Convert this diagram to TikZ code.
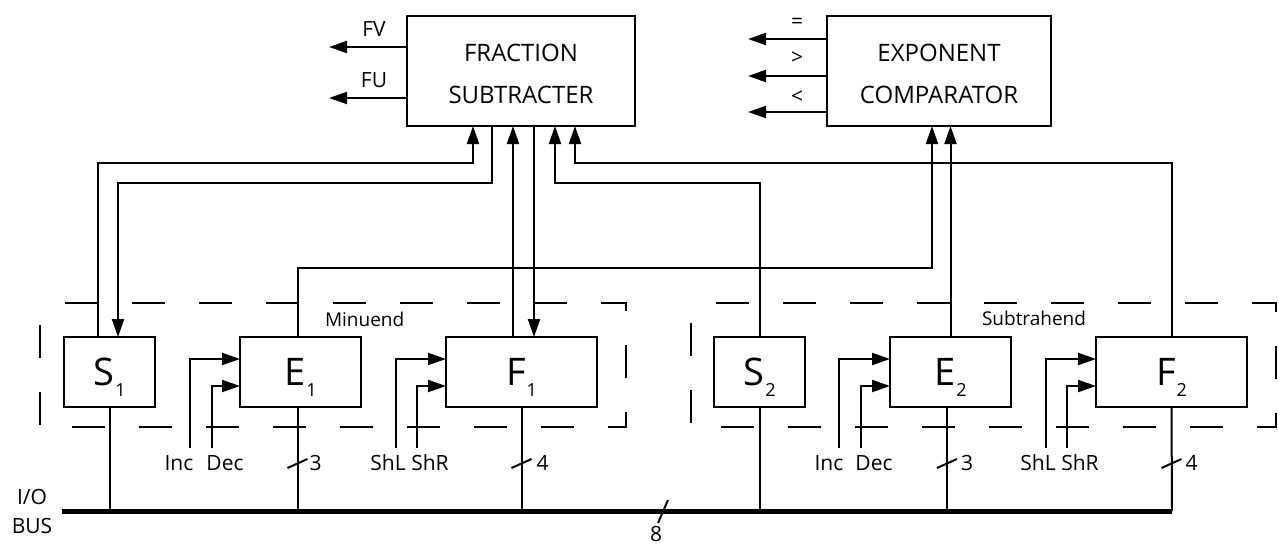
\documentclass[tikz,border=0pt]{standalone}
\usepackage{fontspec}
\setmainfont{Open Sans}
\usetikzlibrary{arrows.meta,calc}
\newcommand\myfs[1]{\fontsize{#1}{#1}\selectfont}
\newcommand\regname[2]{#1\kern1pt\raisebox{-11pt}[0pt][0pt]{\myfs{18}#2}}
\begin{document}
\begin{tikzpicture}[x=1pt,y=-1pt,
  line width=2pt,
  every node/.style={inner sep=0pt,outer sep=0pt},
  bigbox/.style={draw,line width=2pt,minimum height=110pt,align=center,font=\fontsize{24}{42}\selectfont},
  reg/.style={draw,line width=2pt,minimum height=70pt,font=\myfs{38}},
  lbl/.style={font=\myfs{21}},
  grplbl/.style={font=\myfs{19},anchor=west},
  arr/.style={-{Triangle[length=18pt,width=12pt]}},
  grp/.style={dash pattern=on 33pt off 34pt,dash phase=42pt,line width=2pt},
  bus/.style={line width=5pt},
]
\useasboundingbox (0,0) rectangle (1278,546);

% main blocks
\node[bigbox,minimum width=228pt] (fs) at (521,71) {\rule{0pt}{23pt}FRACTION\\SUBTRACTER};
\node[bigbox,minimum width=224pt] (ec) at (939,71) {\rule{0pt}{23pt}EXPONENT\\COMPARATOR};

\node[reg,minimum width=91pt]  (s1) at (109.5,372) {\regname{S}{1}};
\node[reg,minimum width=121pt] (e1) at (300.5,372) {\regname{E}{1}};
\node[reg,minimum width=151pt] (f1) at (521.5,372) {\regname{F}{1}};
\node[reg,minimum width=91pt]  (s2) at (759.5,372) {\regname{S}{2}};
\node[reg,minimum width=121pt] (e2) at (950.5,372) {\regname{E}{2}};
\node[reg,minimum width=151pt] (f2) at (1171.5,372) {\regname{F}{2}};

% dashed groups
\draw[grp] (40,303) -- (626,303) -- (626,427) -- (40,427) -- cycle;
\draw[grp] (691,303) -- (1276,303) -- (1276,427) -- (691,427) -- cycle;
\node[grplbl] (minu) at (325,319) {Minuend};
\node[grplbl] (subt) at (982,318) {Subtrahend};

% ports
\coordinate (s1a) at ([xshift=34pt]s1.north west);
\coordinate (s1b) at ([xshift=54pt]s1.north west);
\coordinate (fsa) at ([xshift=66pt]fs.south west);
\coordinate (fsb) at ([xshift=85pt]fs.south west);
\coordinate (fsc) at ([xshift=148pt]fs.south west);
\coordinate (fsd) at ([xshift=168pt]fs.south west);
\coordinate (f1a) at ([xshift=67pt]f1.north west);
\coordinate (f1b) at ([xshift=88pt]f1.north west);
\coordinate (e1a) at ([xshift=-3pt]e1.north);
\coordinate (e1b) at ([xshift=-3pt]e1.south);
\coordinate (e2b) at ([xshift=-3.5pt]e2.south);
\coordinate (eca) at ([xshift=-7pt]ec.south);

% connections to the subtracter and comparator
\draw[arr] (s1a) -- ++(0,-174) -| (fsa);
\draw[arr] (fsb) -- ++(0,57) -| (s1b);
\draw[arr] (f1a) -- (f1a |- fs.south);
\draw[arr] (f1b |- fs.south) -- (f1b);
\draw[arr] (s2.north) -- ++(0,-154) -| (fsc);
\draw[arr] (f2.north) -- ++(0,-174) -| (fsd);
\draw[arr] (e1a) -- ++(0,-69) -| (eca);
\draw[arr] (e2.north) -- (e2.north |- ec.south);

% outputs
\coordinate (fvE) at (329,47);
\coordinate (fuE) at (329,98);
\draw[arr] (fvE -| fs.west) -- (fvE);
\draw[arr] (fuE -| fs.west) -- (fuE);
\node[lbl] (fvl) at (374,29) {FV};
\node[lbl] (ful) at (374,80) {FU};
\coordinate (eqE) at (748,39);
\coordinate (gtE) at (748,76);
\coordinate (ltE) at (748,112);
\draw[arr] (eqE -| ec.west) -- (eqE);
\draw[arr] (gtE -| ec.west) -- (gtE);
\draw[arr] (ltE -| ec.west) -- (ltE);
\node[lbl] (eql) at (797,23) {=};
\node[lbl] (gtl) at (797,58) {>};
\node[lbl] (ltl) at (797,97) {<};

% control inputs
\coordinate (i1) at (190,448);  \coordinate (d1) at (212,448);
\coordinate (l1) at (396,448);  \coordinate (r1) at (417,448);
\coordinate (i2) at (839,448);  \coordinate (d2) at (861,448);
\coordinate (l2) at (1046,448); \coordinate (r2) at (1067,448);
\draw[arr] (i1) |- ([yshift=-22pt]e1.north west);
\draw[arr] (d1) |- ([yshift=-49pt]e1.north west);
\draw[arr] (l1) |- ([yshift=-22pt]f1.north west);
\draw[arr] (r1) |- ([yshift=-49pt]f1.north west);
\draw[arr] (i2) |- ([yshift=-22pt]e2.north west);
\draw[arr] (d2) |- ([yshift=-49pt]e2.north west);
\draw[arr] (l2) |- ([yshift=-22pt]f2.north west);
\draw[arr] (r2) |- ([yshift=-49pt]f2.north west);
\node[lbl] (inc1) at (179,463) {Inc};
\node[lbl] (dec1) at (225,463) {Dec};
\node[lbl] (shl1) at (388,463) {ShL};
\node[lbl] (shr1) at (430,463) {ShR};
\node[lbl] (inc2) at (829,463) {Inc};
\node[lbl] (dec2) at (874,463) {Dec};
\node[lbl] (shl2) at (1038,463) {ShL};
\node[lbl] (shr2) at (1080,463) {ShR};

% I/O bus
\coordinate (busL) at (62,511);
\coordinate (busR) at (1172,511);
\draw[bus] (busL) -- (busR);
\node[lbl] (io) at (32,497) {I/O};
\node[lbl] (busl) at (32,526) {BUS};
\draw (s1.south) -- (s1.south |- busL);
\draw (e1b) -- (e1b |- busL);
\draw (f1.south) -- (f1.south |- busL);
\draw (s2.south) -- (s2.south |- busL);
\draw (e2b) -- (e2b |- busL);
\draw (f2.south) -- (busR);

% width marks
\path (e1b) ++(0,56) coordinate (t1);
\path (f1.south) ++(0,56) coordinate (t2);
\path (e2b) ++(0,56) coordinate (t3);
\path (f2.south) ++(0,56) coordinate (t4);
\coordinate (t5) at (663,511);
\foreach \t in {t1,t2,t3,t4}{\draw (\t) ++(-10,5) -- ++(20,-9);}
\draw (t5) ++(-5,12) -- ++(10,-23);
\node[lbl,anchor=west] (w1) at ([xshift=12pt]t1) {3};
\node[lbl,anchor=west] (w2) at ([xshift=15pt]t2) {4};
\node[lbl,anchor=west] (w3) at ([xshift=14pt]t3) {3};
\node[lbl,anchor=west] (w4) at ([xshift=14pt]t4) {4};
\node[lbl] (w5) at (656,534) {8};
\end{tikzpicture}
\end{document}
